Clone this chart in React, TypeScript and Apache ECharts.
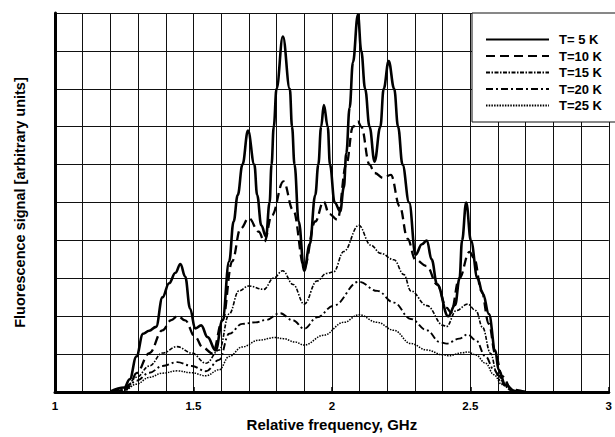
import React, { useEffect, useRef } from "react";
import * as echarts from "echarts";

type Pt = [number, number];

const xTickLabels = ["1", "1.5", "2", "2.5", "3"];
const seriesNames = ["T= 5 K", "T=10 K", "T=15 K", "T=20 K", "T=25 K"];

const t5: Pt[] = [
  [1.2, 0.02], [1.25, 0.12], [1.27, 0.34], [1.294, 0.94], [1.318, 1.54], [1.34, 1.62], [1.365, 1.72],
  [1.388, 2.5], [1.412, 2.87], [1.435, 3.15], [1.453, 3.38], [1.47, 3.05], [1.488, 2.2], [1.506, 1.68],
  [1.528, 1.76], [1.551, 1.45], [1.58, 1.1], [1.605, 1.9], [1.629, 3.45], [1.645, 4.5], [1.66, 5.2],
  [1.677, 6.0], [1.697, 6.9], [1.72, 6.0], [1.73, 5.2], [1.745, 4.4], [1.762, 4.1], [1.775, 5.0],
  [1.782, 6.0], [1.79, 7.0], [1.8, 8.0], [1.823, 9.38], [1.848, 8.0], [1.856, 7.0], [1.865, 6.0],
  [1.88, 4.5], [1.9, 3.2], [1.92, 3.9], [1.94, 5.2], [1.951, 6.0], [1.961, 7.0], [1.971, 7.57],
  [1.985, 7.0], [1.993, 6.0], [2.01, 5.0], [2.03, 4.77], [2.043, 5.4], [2.052, 6.3], [2.064, 7.5],
  [2.076, 8.7], [2.094, 9.96], [2.106, 9.0], [2.12, 8.0], [2.136, 7.0], [2.154, 6.08], [2.175, 7.0],
  [2.187, 8.0], [2.205, 8.73], [2.225, 8.0], [2.239, 7.0], [2.255, 6.0], [2.279, 5.0], [2.302, 3.62],
  [2.325, 3.9], [2.343, 4.0], [2.36, 3.5], [2.38, 2.84], [2.42, 2.0], [2.445, 2.3], [2.461, 3.0],
  [2.47, 4.0], [2.485, 5.0], [2.502, 4.0], [2.526, 3.0], [2.545, 2.6], [2.567, 2.06], [2.59, 1.1],
  [2.602, 0.59], [2.626, 0.2], [2.66, 0.03], [2.7, 0],
];

const t10: Pt[] = [
  [1.2, 0], [1.25, 0.08], [1.271, 0.21], [1.294, 0.5], [1.341, 1.03], [1.388, 1.63], [1.42, 1.9],
  [1.443, 2.01], [1.47, 1.89], [1.506, 1.46], [1.533, 1.18], [1.569, 1.02], [1.605, 1.89], [1.64, 3.45],
  [1.67, 4.31], [1.7, 4.59], [1.736, 4.23], [1.756, 3.97], [1.783, 4.66], [1.825, 5.56], [1.86, 4.8],
  [1.9, 3.3], [1.94, 4.5], [1.97, 5.03], [1.99, 4.7], [2.02, 4.55], [2.052, 6.0], [2.076, 7.0],
  [2.094, 7.14], [2.106, 7.0], [2.136, 6.0], [2.154, 5.78], [2.185, 5.65], [2.213, 5.73], [2.245, 4.9],
  [2.273, 4.05], [2.302, 3.49], [2.343, 3.32], [2.38, 2.84], [2.414, 2.23], [2.43, 2.1], [2.46, 3.0],
  [2.497, 3.7], [2.514, 3.53], [2.54, 2.67], [2.567, 1.8], [2.59, 1.02], [2.614, 0.42], [2.65, 0.07],
  [2.7, 0],
];

const t15: Pt[] = [
  [1.2, 0], [1.25, 0.06], [1.294, 0.39], [1.341, 0.69], [1.388, 1.03], [1.441, 1.2], [1.494, 1.03],
  [1.545, 0.76], [1.593, 1.11], [1.629, 2.06], [1.664, 2.67], [1.7, 2.8], [1.754, 2.71], [1.79, 3.01],
  [1.822, 3.2], [1.86, 2.84], [1.9, 2.32], [1.946, 2.93], [1.98, 3.13], [2.006, 3.17], [2.043, 3.71],
  [2.097, 4.4], [2.14, 3.88], [2.176, 3.66], [2.224, 3.49], [2.26, 3.1], [2.285, 2.67], [2.343, 2.28],
  [2.402, 1.76], [2.414, 1.73], [2.449, 2.15], [2.49, 2.32], [2.52, 2.15], [2.544, 1.71], [2.573, 1.02],
  [2.596, 0.5], [2.626, 0.16], [2.66, 0.02], [2.7, 0],
];

const t20: Pt[] = [
  [1.2, 0], [1.25, 0.05], [1.294, 0.3], [1.341, 0.51], [1.388, 0.69], [1.441, 0.79], [1.494, 0.69],
  [1.545, 0.55], [1.593, 0.85], [1.629, 1.54], [1.676, 1.8], [1.724, 1.84], [1.76, 1.9], [1.813, 2.08],
  [1.86, 1.89], [1.9, 1.67], [1.946, 1.97], [2.006, 2.28], [2.097, 2.91], [2.164, 2.67], [2.224, 2.36],
  [2.285, 1.93], [2.343, 1.63], [2.39, 1.32], [2.414, 1.28], [2.46, 1.41], [2.49, 1.52], [2.52, 1.37],
  [2.555, 0.94], [2.585, 0.59], [2.614, 0.24], [2.65, 0.04], [2.7, 0],
];

const t25: Pt[] = [
  [1.2, 0], [1.25, 0.04], [1.294, 0.21], [1.341, 0.39], [1.388, 0.5], [1.441, 0.56], [1.494, 0.51],
  [1.545, 0.43], [1.593, 0.59], [1.629, 0.94], [1.676, 1.19], [1.736, 1.37], [1.795, 1.44], [1.825, 1.41],
  [1.867, 1.32], [1.9, 1.24], [1.97, 1.5], [2.043, 1.84], [2.097, 2.04], [2.164, 1.84], [2.224, 1.63],
  [2.285, 1.28], [2.343, 1.11], [2.402, 0.98], [2.42, 0.96], [2.473, 1.04], [2.49, 1.06], [2.52, 0.98],
  [2.555, 0.76], [2.585, 0.46], [2.614, 0.2], [2.65, 0.04], [2.7, 0],
];

const allData = [t5, t10, t15, t20, t25];
const lineTypes: any[] = ["solid", [9, 5], [4, 1.5, 1.5, 1.5], [7, 3, 2, 3], [1.5, 1.2]];
const lineWidths = [2.6, 2.3, 1.6, 1.9, 1.5];

const FONT = "'Liberation Sans', Arial, sans-serif";

export default function App() {
  const ref = useRef<HTMLDivElement>(null);
  useEffect(() => {
    if (!ref.current) return;
    const chart = echarts.init(ref.current, null, { renderer: "svg" });
    chart.setOption({
      animation: false,
      backgroundColor: "#fff",
      grid: { left: 55, top: 13, width: 561, height: 385, containLabel: false },
      legend: {
        data: seriesNames,
        orient: "vertical",
        left: 472,
        top: 13,
        padding: [20, 16, 10, 13],
        itemGap: 3.5,
        itemWidth: 63,
        itemHeight: 13,
        backgroundColor: "#fff",
        borderColor: "#111",
        borderWidth: 1,
        borderRadius: 0,
        itemStyle: { color: "rgba(0,0,0,0)", borderColor: "rgba(0,0,0,0)", borderWidth: 0 },
        textStyle: { fontFamily: FONT, fontWeight: "bold", fontSize: 13, color: "#000", padding: [0, 0, 0, 5] },
      },
      xAxis: {
        type: "value",
        min: 1,
        max: 3,
        interval: 0.5,
        name: "Relative frequency, GHz",
        nameLocation: "middle",
        nameGap: 24,
        nameTextStyle: { fontFamily: FONT, fontWeight: "bold", fontSize: 15, color: "#000" },
        axisLine: { show: true, onZero: false, lineStyle: { color: "#000", width: 3 } },
        axisTick: { show: true, inside: true, length: 5, lineStyle: { color: "#000", width: 1.5 } },
        axisLabel: {
          margin: 8,
          fontFamily: FONT,
          fontWeight: "bold",
          fontSize: 11.5,
          color: "#000",
          formatter: (v: number) => {
            const i = Math.round((v - 1) / 0.5);
            return xTickLabels[i] ?? "";
          },
        },
        splitLine: { show: true, lineStyle: { color: "#111", width: 1 } },
        minorTick: { show: false, splitNumber: 5 },
        minorSplitLine: { show: true, lineStyle: { color: "#111", width: 1 } },
      },
      yAxis: {
        type: "value",
        min: 0,
        max: 10,
        interval: 1,
        name: "Fluorescence signal [arbitrary units]",
        nameLocation: "middle",
        nameGap: 28,
        nameTextStyle: { fontFamily: FONT, fontWeight: "bold", fontSize: 14.5, color: "#000" },
        axisLine: { show: true, lineStyle: { color: "#000", width: 3 } },
        axisTick: { show: false },
        axisLabel: { show: false },
        splitLine: { show: true, lineStyle: { color: "#111", width: 1 } },
      },
      series: seriesNames.map((name, i) => ({
        name,
        type: "line",
        data: allData[i],
        showSymbol: false,
        symbol: "none",
        smooth: 0.4,
        smoothMonotone: "x",
        z: 10 - i,
        lineStyle: { color: "#000", width: lineWidths[i], type: lineTypes[i] },
        itemStyle: { color: "#000" },
      })),
    });
    return () => chart.dispose();
  }, []);
  return (
    <div
      ref={ref}
      style={{ position: "fixed", left: 0, top: 0, width: 615, height: 437, background: "#fff" }}
    />
  );
}
